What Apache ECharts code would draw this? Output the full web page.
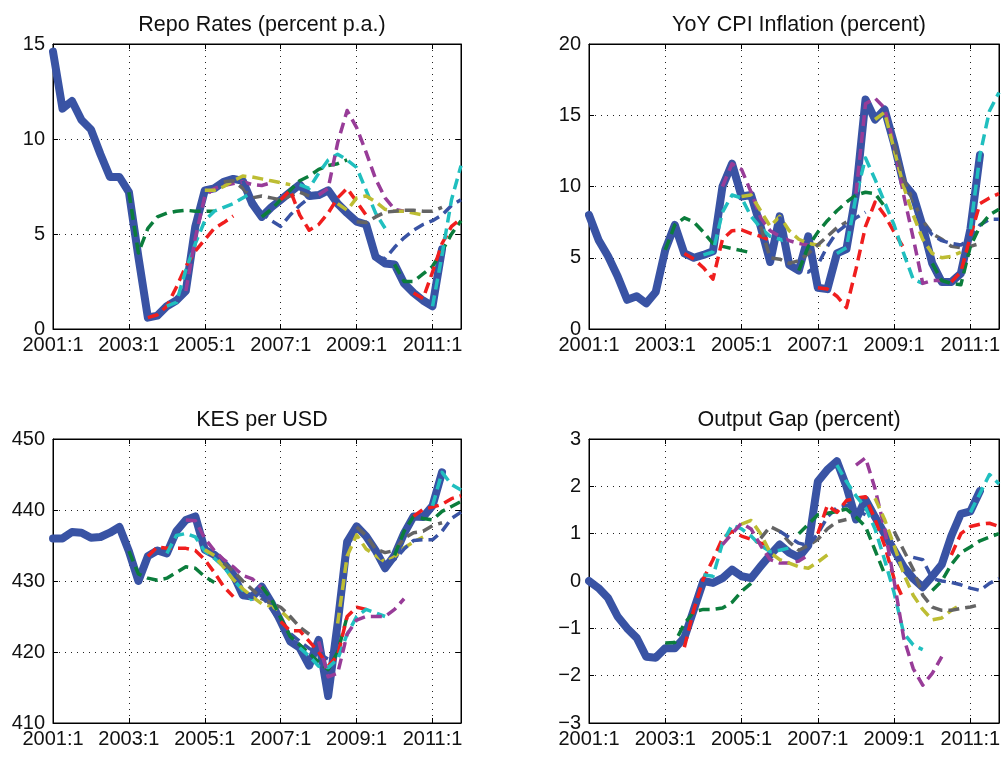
<!DOCTYPE html>
<html>
<head>
<meta charset="utf-8">
<script src="https://cdn.jsdelivr.net/npm/echarts@6/dist/echarts.min.js"></script>
<style>
html, body { margin: 0; padding: 0; background: #fff; }
#chart { width: 1006px; height: 758px; }
</style>
</head>
<body>
<div id="chart"></div>
<script>
// quarterly categories 2001:1 .. 2011:4
var quarters = [
  "2001:1","2001:2","2001:3","2001:4","2002:1","2002:2","2002:3","2002:4",
  "2003:1","2003:2","2003:3","2003:4","2004:1","2004:2","2004:3","2004:4",
  "2005:1","2005:2","2005:3","2005:4","2006:1","2006:2","2006:3","2006:4",
  "2007:1","2007:2","2007:3","2007:4","2008:1","2008:2","2008:3","2008:4",
  "2009:1","2009:2","2009:3","2009:4","2010:1","2010:2","2010:3","2010:4",
  "2011:1","2011:2","2011:3","2011:4"
];
// index of the quarter where each forecast path starts
var fcstStart = [8, 10, 12, 14, 16, 18, 20, 22, 24, 26, 28, 30, 32, 34, 36, 38, 40];

var repoActual = [14.6, 11.6, 12.0, 11.0, 10.5, 9.2, 8.0, 8.0, 7.2, 3.8, 0.6, 0.7, 1.2, 1.5, 2.0, 5.4, 7.3, 7.4, 7.75, 7.9,
  7.8, 6.6, 5.9, 6.4, 6.8, 7.2, 7.6, 7.0, 7.05, 7.3, 6.6, 6.1, 5.65, 5.5, 3.8, 3.45, 3.4, 2.4, 1.9, 1.5, 1.2, 4.2];
var repoFcst = [
  [7.2, 4.0, 5.3, 5.9, 6.1, 6.2, 6.25, 6.2, 6.2, 6.2],
  [0.6, 0.75, 1.2, 2.2, 3.3, 4.1, 4.7, 5.3, 5.6, 5.95],
  [1.2, 1.4, 3.1, 4.5, 5.7, 6.2, 6.4, 6.6, 6.9, 7.2],
  [2.0, 4.8, 7.0, 7.4, 7.55, 7.65, 7.75, 7.6, 7.55, 7.7],
  [7.3, 7.3, 7.5, 7.8, 8.05, 8.0, 7.9, 7.8, 7.7, 7.6],
  [7.75, 7.8, 7.4, 6.9, 7.0, 6.9, 6.8, 7.0, 7.2, 7.0],
  [7.8, 6.8, 6.1, 5.7, 5.4, 6.0, 6.5, 6.9, 7.0, 7.2],
  [5.9, 6.3, 6.8, 7.3, 7.8, 8.05, 8.4, 8.6, 8.7, 8.9],
  [6.8, 7.3, 6.0, 5.2, 5.5, 6.1, 6.9, 7.4, 6.7, 6.0],
  [7.6, 7.4, 8.2, 8.9, 9.2, 8.9, 8.5, 7.3, 6.1, 5.3],
  [7.05, 7.4, 9.8, 11.5, 10.6, 9.3, 7.9, 6.9, 6.3, 6.2],
  [6.6, 6.25, 6.9, 7.0, 6.7, 6.3, 6.2, 6.2, 6.1, 6.0],
  [5.65, 5.6, 5.9, 6.15, 6.2, 6.25, 6.25, 6.2, 6.2, 6.4],
  [3.8, 3.7, 4.3, 4.8, 5.2, 5.5, 5.7, 6.0, 6.5, 6.8],
  [3.4, 2.5, 2.5, 2.9, 3.3, 4.1, 5.0, 5.7],
  [1.9, 1.6, 3.0, 4.5, 5.4, 5.8],
  [1.2, 3.9, 6.8, 8.6]
];

var cpiActual = [8.0, 6.25, 5.1, 3.7, 2.05, 2.3, 1.8, 2.6, 5.55, 7.3, 5.3, 5.0, 5.2, 5.45, 10.0, 11.6, 9.3, 9.4, 7.2, 4.7,
  7.9, 4.5, 4.1, 6.5, 2.9, 2.8, 5.3, 5.6, 9.5, 16.1, 14.7, 15.4, 13.0, 10.2, 9.4, 7.2, 4.6, 3.3, 3.3, 3.9, 7.0, 12.2];
var cpiFcst = [
  [5.55, 7.3, 7.8, 7.5, 6.8, 6.0, 5.8, 5.65, 5.5, 5.35],
  [5.3, 4.9, 4.3, 3.5, 6.3, 6.9, 6.95, 6.7, 6.5, 6.2],
  [5.2, 5.4, 8.2, 9.4, 9.2, 7.9, 7.1, 6.5, 6.3, 6.1],
  [10.0, 11.6, 11.2, 9.6, 7.8, 6.9, 6.5, 6.2, 6.0, 5.9],
  [9.3, 9.4, 8.3, 7.2, 7.9, 6.9, 6.3, 6.0, 5.9, 5.9],
  [7.2, 5.0, 4.9, 4.6, 4.8, 5.3, 5.9, 6.5, 7.1, 7.5],
  [7.9, 4.6, 4.2, 4.0, 4.5, 5.8, 6.8, 7.3, 7.8, 8.2],
  [4.1, 5.8, 6.8, 7.6, 8.3, 8.9, 9.4, 9.6, 9.5, 8.6],
  [2.9, 2.8, 2.3, 1.5, 4.2, 7.2, 8.9, 8.0, 6.8, 5.7],
  [5.3, 5.7, 9.3, 12.0, 10.5, 8.9, 7.3, 5.3, 3.5, 3.2],
  [9.5, 15.8, 16.2, 15.5, 12.9, 9.4, 6.4, 3.2, 3.4, 3.4],
  [14.7, 15.2, 12.6, 10.0, 8.0, 6.3, 5.3, 5.0, 5.1, 5.4],
  [13.0, 10.5, 9.0, 7.6, 6.7, 6.3, 5.8, 5.7, 5.8, 6.0],
  [9.4, 7.5, 6.6, 6.2, 6.0, 5.9, 6.3, 7.3, 7.7, 7.7],
  [4.6, 3.4, 3.2, 3.1, 5.8, 7.2, 8.0, 8.4],
  [3.3, 4.0, 6.5, 8.8, 9.2, 9.5],
  [7.0, 12.2, 15.3, 16.6]
];

var kesActual = [436.0, 436.0, 436.9, 436.8, 436.1, 436.2, 436.8, 437.6, 434.2, 430.0, 433.5, 434.3, 433.9, 437.0, 438.6, 439.1,
  434.4, 433.7, 432.5, 430.9, 428.0, 427.8, 429.2, 427.0, 424.3, 421.5, 420.6, 418.1, 421.7, 413.8, 424.0, 435.5,
  437.7, 436.3, 434.3, 431.8, 433.6, 436.7, 439.1, 439.0, 440.6, 445.3];
var kesFcst = [
  [434.2, 431.0, 430.4, 430.1, 430.4, 431.2, 432.0, 431.8, 430.6, 429.8],
  [433.5, 434.8, 434.6, 434.6, 434.6, 434.3, 433.0, 431.2, 429.2, 427.8],
  [433.9, 436.4, 436.7, 436.2, 434.2, 433.2, 432.0, 430.2, 428.7, 427.3],
  [438.6, 438.5, 436.0, 434.3, 433.0, 432.0, 430.8, 430.3, 429.0, 428.0],
  [434.4, 433.6, 431.9, 430.2, 428.9, 427.8, 426.8, 426.4, 425.8, 424.5],
  [432.5, 431.4, 430.0, 428.8, 427.5, 426.9, 426.3, 425.0, 423.5, 422.5],
  [428.0, 427.7, 428.0, 426.0, 424.0, 422.6, 421.5, 420.5, 419.8, 419.0],
  [429.2, 427.5, 424.8, 422.2, 421.0, 419.8, 418.6, 417.5, 420.0, 425.0],
  [424.3, 423.0, 423.0, 421.5, 420.0, 418.0, 419.5, 425.0, 426.3, 426.0],
  [420.6, 419.4, 418.0, 417.8, 419.0, 422.5, 425.0, 426.0, 425.5, 425.0],
  [421.5, 416.5, 417.0, 422.5, 424.5, 425.0, 425.0, 425.0, 426.0, 427.5],
  [424.0, 433.5, 436.5, 434.5, 433.6, 432.7, 433.4, 434.7, 435.5, 436.2],
  [437.6, 436.4, 434.5, 434.0, 434.3, 436.0, 436.8, 437.0, 437.8, 438.2],
  [434.3, 432.5, 433.0, 434.5, 435.7, 435.8, 435.8, 437.0, 438.8, 439.7],
  [433.6, 437.0, 439.1, 438.8, 438.6, 439.8, 440.5, 441.2],
  [439.1, 440.1, 440.4, 440.8, 441.6, 442.0],
  [440.6, 445.3, 443.6, 442.8]
];

var gapActual = [0.0, -0.15, -0.36, -0.75, -1.0, -1.2, -1.6, -1.62, -1.42, -1.42, -1.2, -0.6, 0.0, -0.04, 0.06, 0.24,
  0.1, 0.06, 0.31, 0.55, 0.77, 0.6, 0.5, 0.75, 2.1, 2.35, 2.53, 2.0, 1.3, 1.72, 1.35, 1.0,
  0.65, 0.3, 0.05, -0.13, 0.1, 0.35, 0.95, 1.42, 1.47, 1.9];
var gapFcst = [
  [-1.31, -1.3, -0.9, -0.65, -0.6, -0.6, -0.57, -0.45, -0.22, -0.05],
  [-1.4, -0.6, 0.05, 0.45, 0.9, 1.05, 0.95, 0.88, 0.8, 0.75],
  [0.13, 0.1, 0.8, 1.18, 1.1, 0.95, 0.75, 0.62, 0.65, 0.7],
  [0.77, 1.0, 1.22, 1.1, 0.75, 0.45, 0.38, 0.38, 0.42, 0.55],
  [1.2, 1.28, 1.0, 0.6, 0.45, 0.38, 0.3, 0.27, 0.4, 0.55],
  [0.9, 1.15, 1.05, 0.82, 0.65, 0.75, 0.88, 1.1, 1.25, 1.3],
  [1.05, 0.92, 0.8, 0.75, 1.0, 1.35, 1.55, 1.6, 1.5, 1.4],
  [1.0, 1.2, 1.4, 1.43, 1.47, 1.52, 1.35, 1.15, 0.65, 0.15],
  [1.0, 1.6, 1.45, 1.7, 1.75, 1.78, 1.3, 0.75, 0.05, -0.4],
  [2.45, 2.1, 1.8, 1.55, 1.1, 0.45, -0.25, -1.1, -1.35, -1.45],
  [2.45, 2.6, 1.95, 1.1, 0.0, -1.2, -1.85, -2.2, -1.95, -1.6],
  [1.75, 1.3, 0.75, 0.15, -0.3, -0.6, -0.82, -0.78, -0.62, -0.5],
  [1.05, 0.65, 0.25, -0.3, -0.55, -0.62, -0.62, -0.58, -0.55, -0.5],
  [0.5, 0.45, 0.05, 0.0, -0.03, -0.08, -0.15, -0.2, -0.05, 0.05],
  [-0.2, 0.0, 0.35, 0.6, 0.72, 0.85, 0.93, 1.0],
  [0.55, 1.0, 1.15, 1.2, 1.22, 1.15],
  [1.45, 1.85, 2.25, 2.05]
];

var actualColor = "#3953a4";
var fcstColors = ["#0b7d3c", "#f01e1e", "#20bfbf", "#983c98", "#bdbd33", "#646464", "#3953a4"];
var fontName = "Liberation Sans";

var panels = [
  { title: "Repo Rates (percent p.a.)", actual: repoActual, fcst: repoFcst, min: 0, max: 15, interval: 5,
    grid: { left: 53, top: 44, width: 408, height: 285 }, titleTop: 9 },
  { title: "YoY CPI Inflation (percent)", actual: cpiActual, fcst: cpiFcst, min: 0, max: 20, interval: 5,
    grid: { left: 589, top: 44, width: 410, height: 285 }, titleTop: 9 },
  { title: "KES per USD", actual: kesActual, fcst: kesFcst, min: 410, max: 450, interval: 10,
    grid: { left: 53, top: 439, width: 408, height: 284 }, titleTop: 404 },
  { title: "Output Gap (percent)", actual: gapActual, fcst: gapFcst, min: -3, max: 3, interval: 1,
    grid: { left: 589, top: 439, width: 410, height: 284 }, titleTop: 404 }
];

function padSeries(start, vals) {
  var d = [];
  for (var i = 0; i < quarters.length; i++) d.push(null);
  vals.forEach(function (v, j) {
    if (start + j < quarters.length) d[start + j] = v;
  });
  return d;
}

var option = {
  backgroundColor: "#fff",
  animation: false,
  title: [],
  grid: [],
  xAxis: [],
  yAxis: [],
  series: []
};

panels.forEach(function (p, n) {
  var g = p.grid;
  option.grid.push({ left: g.left, top: g.top, width: g.width, height: g.height,
    show: true, borderColor: "#000", borderWidth: 1, backgroundColor: "transparent" });
  option.title.push({
    text: p.title, left: g.left + g.width / 2, top: p.titleTop, textAlign: "center",
    textStyle: { fontFamily: fontName, fontSize: 21.5, fontWeight: "normal", color: "#111" }
  });
  // bottom axis with labels and dotted grid
  option.xAxis.push({
    type: "category", gridIndex: n, data: quarters, boundaryGap: false, position: "bottom",
    axisLine: { show: true, onZero: false, lineStyle: { color: "#000", width: 1 } },
    axisTick: { show: true, inside: true, interval: 7, length: 5, lineStyle: { color: "#000" } },
    axisLabel: { show: true, interval: 7, margin: 6, fontFamily: fontName, fontSize: 20, color: "#111" },
    splitLine: { show: true, interval: 7, lineStyle: { color: "#222", width: 1, type: [1, 5] } }
  });
  // top axis, ticks only
  option.xAxis.push({
    type: "category", gridIndex: n, data: quarters, boundaryGap: false, position: "top",
    axisLine: { show: true, onZero: false, lineStyle: { color: "#000", width: 1 } },
    axisTick: { show: true, inside: true, interval: 7, length: 5, lineStyle: { color: "#000" } },
    axisLabel: { show: false }, splitLine: { show: false }
  });
  option.yAxis.push({
    type: "value", gridIndex: n, min: p.min, max: p.max, interval: p.interval, position: "left",
    axisLine: { show: true, onZero: false, lineStyle: { color: "#000", width: 1 } },
    axisTick: { show: true, inside: true, length: 5, lineStyle: { color: "#000" } },
    axisLabel: {
      show: true, margin: 8, fontFamily: fontName, fontSize: 20, color: "#111",
      formatter: function (v) { return v < 0 ? "\u2212" + Math.abs(v) : String(v); }
    },
    splitLine: { show: true, lineStyle: { color: "#222", width: 1, type: [1, 5] } }
  });
  option.yAxis.push({
    type: "value", gridIndex: n, min: p.min, max: p.max, interval: p.interval, position: "right",
    axisLine: { show: true, onZero: false, lineStyle: { color: "#000", width: 1 } },
    axisTick: { show: true, inside: true, length: 5, lineStyle: { color: "#000" } },
    axisLabel: { show: false }, splitLine: { show: false }
  });

  // actual data, thick solid line
  option.series.push({
    type: "line", xAxisIndex: n * 2, yAxisIndex: n * 2, data: p.actual,
    showSymbol: false, silent: true, z: 2,
    lineStyle: { color: actualColor, width: 8, cap: "round", join: "round" }
  });
  // forecast paths, dashed, colours cycling
  p.fcst.forEach(function (vals, k) {
    option.series.push({
      type: "line", xAxisIndex: n * 2, yAxisIndex: n * 2, data: padSeries(fcstStart[k], vals),
      showSymbol: false, silent: true, connectNulls: false, z: 3,
      lineStyle: { color: fcstColors[k % fcstColors.length], width: 3.5, type: [11, 6], cap: "butt", join: "round" }
    });
  });
});

var chart = echarts.init(document.getElementById("chart"));
chart.setOption(option);
</script>
</body>
</html>
